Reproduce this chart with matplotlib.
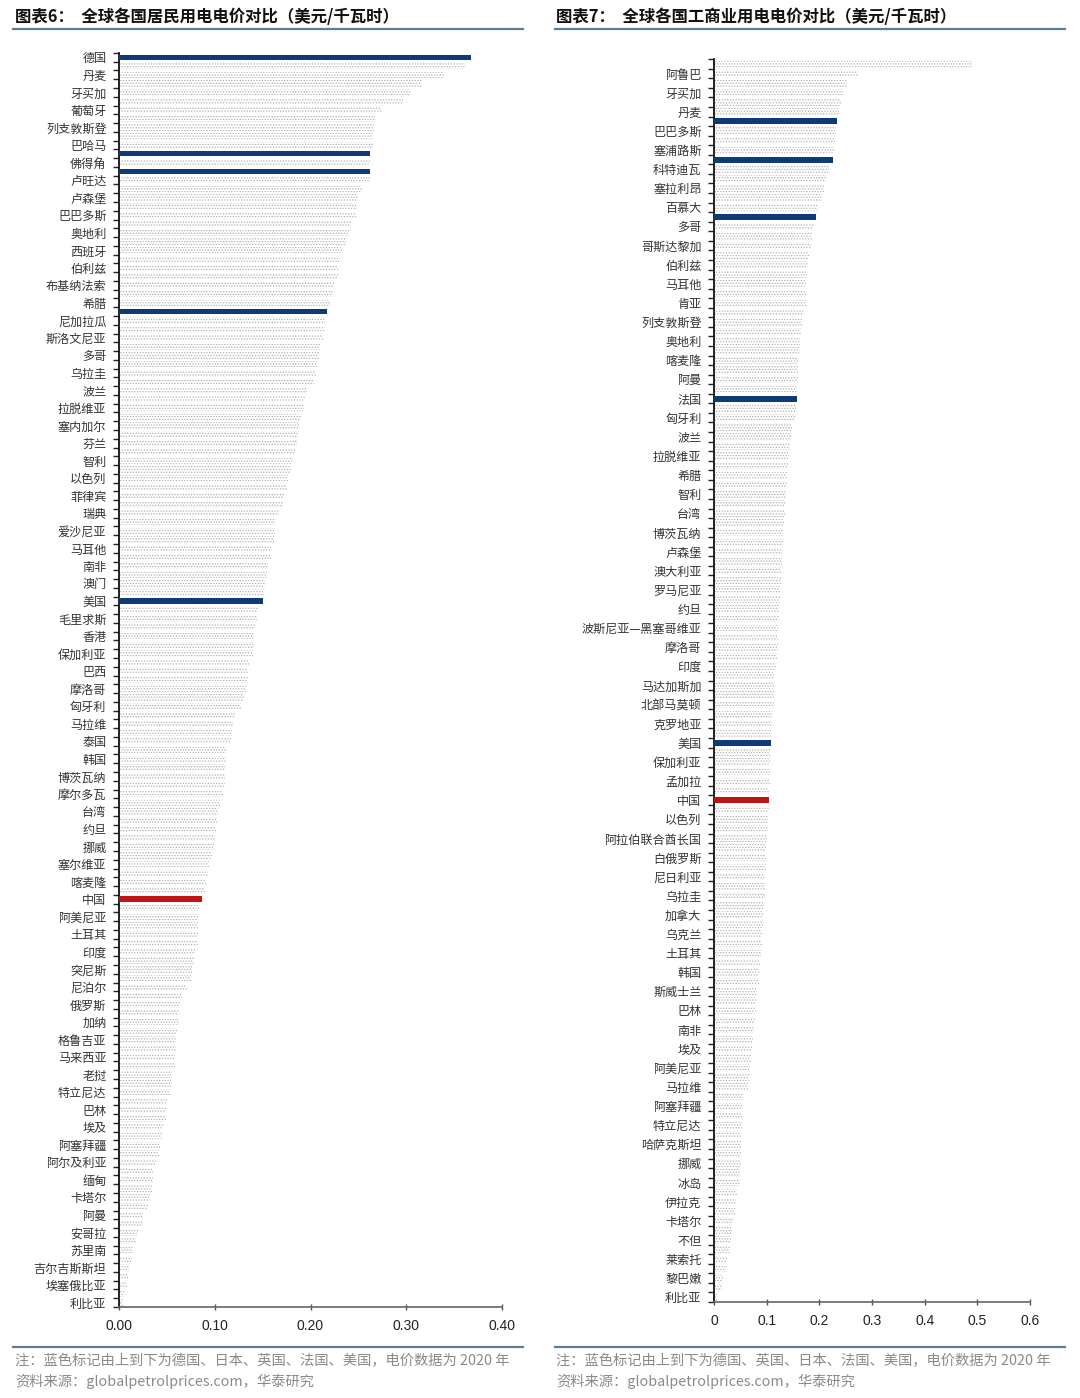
import matplotlib
matplotlib.use("Agg")
import matplotlib.pyplot as plt
from matplotlib.lines import Line2D
import numpy as np

plt.rcParams['font.family'] = ['Noto Sans CJK SC', 'DejaVu Sans']
plt.rcParams['hatch.linewidth'] = 0.6

# ---------------- data: residential (left) ----------------
left_labels = ["德国", "丹麦", "牙买加", "葡萄牙", "列支敦斯登", "巴哈马", "佛得角", "卢旺达", "卢森堡",
               "巴巴多斯", "奥地利", "西班牙", "伯利兹", "布基纳法索", "希腊", "尼加拉瓜", "斯洛文尼亚",
               "多哥", "乌拉圭", "波兰", "拉脱维亚", "塞内加尔", "芬兰", "智利", "以色列", "菲律宾", "瑞典",
               "爱沙尼亚", "马耳他", "南非", "澳门", "美国", "毛里求斯", "香港", "保加利亚", "巴西", "摩洛哥",
               "匈牙利", "马拉维", "泰国", "韩国", "博茨瓦纳", "摩尔多瓦", "台湾", "约旦", "挪威", "塞尔维亚",
               "喀麦隆", "中国", "阿美尼亚", "土耳其", "印度", "突尼斯", "尼泊尔", "俄罗斯", "加纳", "格鲁吉亚",
               "马来西亚", "老挝", "特立尼达", "巴林", "埃及", "阿塞拜疆", "阿尔及利亚", "缅甸", "卡塔尔", "阿曼",
               "安哥拉", "苏里南", "吉尔吉斯斯坦", "埃塞俄比亚", "利比亚"]
left_unlabeled = {11: "日本", 13: "英国", 29: "法国"}
left_values = [0.368, 0.361, 0.339, 0.316, 0.304, 0.297, 0.274, 0.267, 0.266, 0.265,
               0.265, 0.262, 0.262, 0.262, 0.262, 0.254, 0.250, 0.249, 0.248, 0.242,
               0.240, 0.237, 0.233, 0.231, 0.229, 0.229, 0.225, 0.223, 0.220, 0.217,
               0.215, 0.214, 0.213, 0.210, 0.209, 0.207, 0.206, 0.204, 0.196, 0.194,
               0.193, 0.190, 0.188, 0.187, 0.186, 0.184, 0.182, 0.180, 0.177, 0.175,
               0.172, 0.171, 0.167, 0.163, 0.163, 0.162, 0.159, 0.159, 0.156, 0.155,
               0.152, 0.151, 0.150, 0.145, 0.144, 0.142, 0.141, 0.141, 0.140, 0.136,
               0.135, 0.135, 0.133, 0.131, 0.127, 0.121, 0.119, 0.118, 0.117, 0.112,
               0.112, 0.111, 0.111, 0.111, 0.109, 0.105, 0.103, 0.102, 0.101, 0.100,
               0.099, 0.097, 0.094, 0.093, 0.091, 0.090, 0.087, 0.084, 0.083, 0.083,
               0.082, 0.082, 0.079, 0.078, 0.076, 0.075, 0.071, 0.066, 0.064, 0.063,
               0.063, 0.061, 0.060, 0.060, 0.059, 0.058, 0.055, 0.054, 0.053, 0.050,
               0.049, 0.049, 0.046, 0.045, 0.043, 0.042, 0.039, 0.036, 0.035, 0.034,
               0.032, 0.030, 0.025, 0.025, 0.020, 0.018, 0.015, 0.014, 0.010, 0.009,
               0.008, 0.005, 0.004]
left_ticks = [0.00, 0.10, 0.20, 0.30, 0.40]
left_ticklabels = ["0.00", "0.10", "0.20", "0.30", "0.40"]

# ---------------- data: commercial (right) ----------------
right_labels = ["阿鲁巴", "牙买加", "丹麦", "巴巴多斯", "塞浦路斯", "科特迪瓦", "塞拉利昂", "百慕大", "多哥",
                "哥斯达黎加", "伯利兹", "马耳他", "肯亚", "列支敦斯登", "奥地利", "喀麦隆", "阿曼", "法国",
                "匈牙利", "波兰", "拉脱维亚", "希腊", "智利", "台湾", "博茨瓦纳", "卢森堡", "澳大利亚",
                "罗马尼亚", "约旦", "波斯尼亚—黑塞哥维亚", "摩洛哥", "印度", "马达加斯加", "北部马莫顿",
                "克罗地亚", "美国", "保加利亚", "孟加拉", "中国", "以色列", "阿拉伯联合酋长国", "白俄罗斯",
                "尼日利亚", "乌拉圭", "加拿大", "乌克兰", "土耳其", "韩国", "斯威士兰", "巴林", "南非", "埃及",
                "阿美尼亚", "马拉维", "阿塞拜疆", "特立尼达", "哈萨克斯坦", "挪威", "冰岛", "伊拉克", "卡塔尔",
                "不但", "莱索托", "黎巴嫩", "利比亚"]
right_unlabeled = {6: "德国", 10: "英国", 16: "日本"}
right_values = [0.490, 0.273, 0.253, 0.245, 0.242, 0.237, 0.234, 0.232, 0.229, 0.227,
                0.225, 0.218, 0.213, 0.209, 0.206, 0.198, 0.193, 0.188, 0.187, 0.184,
                0.181, 0.179, 0.177, 0.175, 0.175, 0.174, 0.170, 0.168, 0.166, 0.164,
                0.162, 0.160, 0.160, 0.160, 0.158, 0.157, 0.155, 0.153, 0.149, 0.147,
                0.144, 0.143, 0.141, 0.139, 0.138, 0.136, 0.134, 0.134, 0.133, 0.131,
                0.131, 0.130, 0.129, 0.128, 0.127, 0.125, 0.125, 0.124, 0.123, 0.122,
                0.122, 0.121, 0.120, 0.118, 0.114, 0.114, 0.113, 0.113, 0.111, 0.111,
                0.109, 0.108, 0.106, 0.106, 0.106, 0.106, 0.105, 0.105, 0.104, 0.103,
                0.102, 0.100, 0.099, 0.098, 0.098, 0.097, 0.096, 0.096, 0.094, 0.093,
                0.093, 0.091, 0.091, 0.089, 0.088, 0.086, 0.085, 0.081, 0.080, 0.079,
                0.078, 0.075, 0.074, 0.073, 0.071, 0.068, 0.066, 0.064, 0.055, 0.054,
                0.053, 0.053, 0.052, 0.052, 0.052, 0.051, 0.050, 0.049, 0.043, 0.041,
                0.039, 0.036, 0.035, 0.033, 0.030, 0.024, 0.022, 0.018, 0.016, 0.005]
right_ticks = [0, 0.1, 0.2, 0.3, 0.4, 0.5, 0.6]
right_ticklabels = ["0", "0.1", "0.2", "0.3", "0.4", "0.5", "0.6"]

blue_names = ["德国", "日本", "英国", "法国", "美国"]
red_names = ["中国"]

BLUE = "#0e3a78"
RED = "#bd1515"
DOT = "#b0b0b0"
LINE = "#5d7b98"
NOTE = "#8a8a8a"


def build_names(labels, unlabeled, n, offset):
    names = []
    for i in range(n):
        if (i - offset) % 2 == 0 and 0 <= (i - offset) // 2 < len(labels):
            names.append(labels[(i - offset) // 2])
        else:
            names.append(unlabeled.get(i, ""))
    return names


def draw_panel(ax, names, values, offset, ticks, ticklabels, xmax):
    n = len(values)
    for i, (nm, v) in enumerate(zip(names, values)):
        if nm in blue_names:
            ax.barh(i, v, height=0.62, color=BLUE, linewidth=0, zorder=3)
        elif nm in red_names:
            ax.barh(i, v, height=0.62, color=RED, linewidth=0, zorder=3)
        else:
            ax.barh(i, v, height=0.72, facecolor="white", edgecolor=DOT,
                    hatch="......", linewidth=0, zorder=2)
    ax.set_ylim(n - 0.5, -0.5)
    ax.set_xlim(0, xmax)
    shown = [i for i in range(n) if (i - offset) % 2 == 0 and names[i] != "" and i >= offset]
    ax.set_yticks(shown)
    ax.set_yticklabels([names[i] for i in shown], fontsize=8.7, color="#333333")
    ax.set_yticks(np.arange(-0.5, n, 1.0), minor=True)
    ax.tick_params(axis="y", which="major", length=0, pad=9)
    ax.tick_params(axis="y", which="minor", length=4, width=1.0, color="#222222", direction="out")
    ax.set_xticks(ticks)
    ax.set_xticklabels(ticklabels, fontsize=10, family=["Liberation Sans", "DejaVu Sans"], color="#222222")
    ax.tick_params(axis="x", which="major", length=5, width=1.0, color="#555555",
                   direction="inout", pad=6)
    for s in ["top", "right"]:
        ax.spines[s].set_visible(False)
    ax.spines["left"].set_color("#111111")
    ax.spines["left"].set_linewidth(1.3)
    ax.spines["bottom"].set_color("#666666")
    ax.spines["bottom"].set_linewidth(1.2)


W, H = 1080, 1398
fig = plt.figure(figsize=(W / 100, H / 100), dpi=100)

left_names = build_names(left_labels, left_unlabeled, len(left_values), 0)
right_names = build_names(right_labels, right_unlabeled, len(right_values), 1)

axL = fig.add_axes([119 / W, 1 - 1307 / H, (502 - 119) / W, (1307 - 52.9) / H])
draw_panel(axL, left_names, left_values, 0, left_ticks, left_ticklabels, 0.40)

axR = fig.add_axes([714 / W, 1 - 1302 / H, (1030 - 714) / W, (1302 - 59.2) / H])
draw_panel(axR, right_names, right_values, 1, right_ticks, right_ticklabels, 0.6)


def fx(px):
    return px / W


def fy(py):
    return 1 - py / H


# titles
fig.text(fx(15), fy(17), "图表6：  全球各国居民用电电价对比（美元/千瓦时）", fontsize=11.8,
         fontweight="bold", va="center", ha="left", color="#111111")
fig.text(fx(556), fy(17), "图表7：  全球各国工商业用电电价对比（美元/千瓦时）", fontsize=11.8,
         fontweight="bold", va="center", ha="left", color="#111111")

# separator lines
for x0, x1 in [(13, 523), (555, 1065)]:
    fig.add_artist(Line2D([fx(x0), fx(x1)], [fy(28.5), fy(28.5)], color=LINE, linewidth=1.6))
    fig.add_artist(Line2D([fx(x0), fx(x1)], [fy(1347), fy(1347)], color=LINE, linewidth=1.6))

# notes
fig.text(fx(15), fy(1361), "注：蓝色标记由上到下为德国、日本、英国、法国、美国，电价数据为 2020 年",
         fontsize=10.3, color=NOTE, va="center", ha="left")
fig.text(fx(15), fy(1381), "资料来源：globalpetrolprices.com，华泰研究",
         fontsize=10.3, color=NOTE, va="center", ha="left")
fig.text(fx(556), fy(1361), "注：蓝色标记由上到下为德国、英国、日本、法国、美国，电价数据为 2020 年",
         fontsize=10.3, color=NOTE, va="center", ha="left")
fig.text(fx(556), fy(1381), "资料来源：globalpetrolprices.com，华泰研究",
         fontsize=10.3, color=NOTE, va="center", ha="left")

fig.savefig("out.png", dpi=100, facecolor="white")
